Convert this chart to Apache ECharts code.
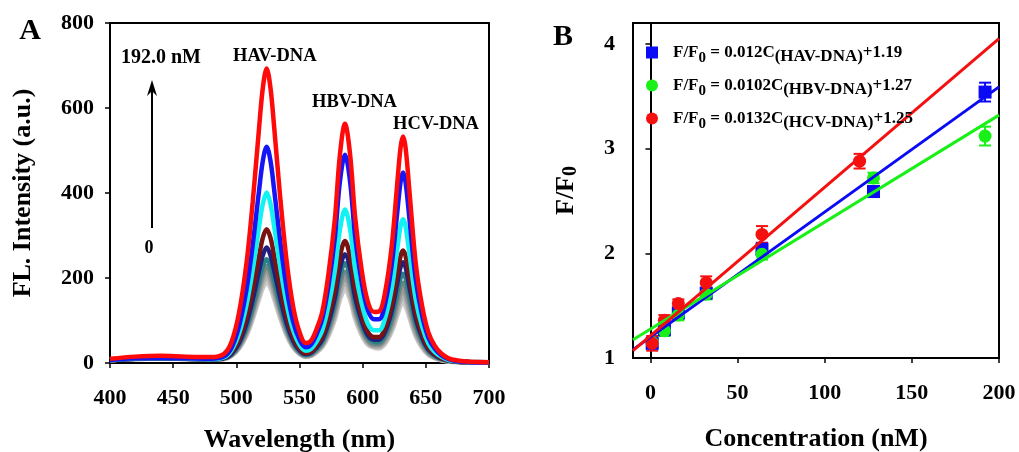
<!DOCTYPE html>
<html>
<head>
<meta charset="utf-8">
<script src="https://cdn.jsdelivr.net/npm/echarts@6/dist/echarts.min.js"></script>
<style>
  html, body { margin: 0; padding: 0; background: #fff; }
  #chart { width: 1019px; height: 452px; }
</style>
</head>
<body>
<div id="chart"></div>
<script>
// panel A: emission spectra (nm -> a.u.)
var wavelength = [400,420,440,460,480,490,496,502,508,513,518,521,524,527,530,535,540,545,550,555,559,563,568,573,578,582,586,590,594,599,604,609,613,618,623,627,630,632,634,637,642,647,652,657,662,668,675,685,700];
var specRed    = [10,15,17,15,14,21,48,116,234,380,553,648,693,648,553,381,235,132,73,47,52,76,120,211,339,490,563,492,344,223,145,120,121,170,275,409,507,533,506,405,235,135,72,41,23,11,6,3,2];
var specBlue   = [7,11,12,11,10,15,35,85,172,279,406,476,509,476,406,280,172,97,55,37,43,64,104,183,295,427,490,428,299,193,125,103,103,143,231,343,426,448,425,340,197,113,60,34,19,9,4,2,1];
var specCyan   = [7,11,12,11,9,13,29,68,136,220,320,375,401,375,320,221,136,77,43,29,33,48,77,135,218,314,361,316,221,143,93,77,77,108,175,260,322,338,321,257,149,86,46,26,15,7,4,2,1];
var specMaroon = [7,11,12,11,9,12,24,54,107,173,251,295,315,295,251,174,107,61,34,23,26,39,62,108,173,250,287,251,175,114,74,61,61,85,137,203,252,265,251,201,117,68,36,21,12,6,3,2,1];
var specNavy   = [7,10,11,10,9,11,21,47,93,150,217,254,272,254,217,150,93,53,30,21,24,35,55,96,154,223,256,224,156,102,66,55,55,76,123,182,226,237,225,180,105,61,32,19,11,6,3,2,1];
var specTeal   = [7,10,11,10,9,11,20,43,83,134,195,228,244,228,195,135,83,48,27,19,22,32,51,88,142,204,235,205,144,93,60,50,49,68,109,161,200,210,199,160,93,54,29,17,10,5,3,2,1];
var specGray1  = [7,10,11,10,9,11,19,40,78,126,182,213,228,213,182,126,78,44,26,18,20,29,46,81,130,187,215,188,131,85,55,45,45,62,98,145,180,189,179,144,84,49,26,15,9,5,3,2,1];
var specGray2  = [7,10,11,10,9,10,18,38,74,120,173,203,217,203,173,120,74,42,24,17,19,28,44,76,122,176,203,177,124,80,52,42,42,57,90,133,165,173,164,131,77,45,24,14,9,5,3,2,1];
var specGray3  = [7,10,11,10,8,10,17,36,70,112,162,190,203,190,162,112,70,40,23,16,18,26,41,71,113,163,188,164,115,74,48,39,38,52,82,121,150,158,150,120,70,41,22,13,8,4,3,2,1];
var specGray4  = [7,10,11,10,8,10,17,34,65,105,152,178,190,178,152,105,65,37,22,15,17,24,38,65,104,150,172,151,106,68,44,36,35,47,75,110,136,143,135,109,64,37,20,12,7,4,3,2,1];

var xTicksA = [400, 450, 500, 550, 600, 650, 700];
var yTicksA = [0, 200, 400, 600, 800];

// panel B: F/F0 vs concentration (nM)
var concHAV = [1, 8, 16, 32, 64, 128, 192];
var ratioHAV = [1.14, 1.27, 1.43, 1.62, 2.04, 2.59, 3.54];
var errHAV = [0.04, 0.04, 0.05, 0.05, 0.06, 0.05, 0.09];
var concHBV = [1, 8, 16, 32, 64, 128, 192];
var ratioHBV = [1.15, 1.26, 1.41, 1.61, 1.99, 2.72, 3.12];
var errHBV = [0.04, 0.05, 0.05, 0.05, 0.05, 0.05, 0.09];
var concHCV = [1, 8, 16, 32, 64, 120];
var ratioHCV = [1.14, 1.36, 1.52, 1.72, 2.18, 2.88];
var errHCV = [0.07, 0.05, 0.04, 0.06, 0.08, 0.07];
var fitHAV = [[-10, 1.08], [200, 3.59]];
var fitHBV = [[-10, 1.175], [200, 3.32]];
var fitHCV = [[-10, 1.07], [200, 4.05]];
var xTicksB = [0, 50, 100, 150, 200];
var yTicksB = [1, 2, 3, 4];

var FONT = "'Liberation Serif', 'DejaVu Serif', serif";

(function() {
	'use strict';
	var chart = echarts.init(document.getElementById('chart'));

	function pairs(xs, ys) {
		return xs.map(function(x, i) { return [x, ys[i]]; });
	}
	function triples(xs, ys, es) {
		return xs.map(function(x, i) { return [x, ys[i], es[i]]; });
	}

	// spectra, drawn from lowest to highest so red sits on top
	var spectra = [
		{data: specGray4, color: '#cacaca', width: 5},
		{data: specGray3, color: '#b2b2b2', width: 5},
		{data: specGray2, color: '#999999', width: 5},
		{data: specGray1, color: '#6f8585', width: 4.5},
		{data: specTeal, color: '#2b8282', width: 4.5},
		{data: specNavy, color: '#1f1f80', width: 4.5},
		{data: specMaroon, color: '#7a1212', width: 4.5},
		{data: specCyan, color: '#12f2f2', width: 4.5},
		{data: specBlue, color: '#1515f5', width: 4.5},
		{data: specRed, color: '#ff0a0a', width: 4.5}
	];

	var axisLine = {show: true, lineStyle: {color: '#000', width: 2}};
	var axisTick = {show: true, inside: false, length: 5, lineStyle: {color: '#000', width: 1.5}};
	var tickLabel = {color: '#000', fontFamily: FONT, fontWeight: 'bold', fontSize: 22};
	var nameStyle = {color: '#000', fontFamily: FONT, fontWeight: 'bold', fontSize: 26};

	function errorBar(color) {
		return function(params, api) {
			var x = api.value(0), y = api.value(1), e = api.value(2);
			var top = api.coord([x, y + e]);
			var bot = api.coord([x, y - e]);
			var w = 6;
			var st = {stroke: color, lineWidth: 2};
			return {
				type: 'group',
				children: [
					{type: 'line', shape: {x1: top[0], y1: top[1], x2: bot[0], y2: bot[1]}, style: st},
					{type: 'line', shape: {x1: top[0] - w, y1: top[1], x2: top[0] + w, y2: top[1]}, style: st},
					{type: 'line', shape: {x1: bot[0] - w, y1: bot[1], x2: bot[0] + w, y2: bot[1]}, style: st}
				]
			};
		};
	}

	var series = spectra.map(function(s) {
		return {
			type: 'line', xAxisIndex: 0, yAxisIndex: 0,
			data: pairs(wavelength, s.data),
			showSymbol: false, smooth: 0.35,
			lineStyle: {color: s.color, width: s.width},
			itemStyle: {color: s.color},
			silent: true
		};
	});

	var groups = [
		{name: 'HAV', conc: concHAV, ratio: ratioHAV, err: errHAV, fit: fitHAV, color: '#0a0af5', symbol: 'rect'},
		{name: 'HBV', conc: concHBV, ratio: ratioHBV, err: errHBV, fit: fitHBV, color: '#18f018', symbol: 'circle'},
		{name: 'HCV', conc: concHCV, ratio: ratioHCV, err: errHCV, fit: fitHCV, color: '#f51010', symbol: 'circle'}
	];
	groups.forEach(function(g) {
		series.push({
			type: 'line', name: g.name + ' fit', xAxisIndex: 1, yAxisIndex: 1,
			data: g.fit, showSymbol: false,
			lineStyle: {color: g.color, width: 3}, silent: true
		});
	});
	groups.forEach(function(g) {
		series.push({
			type: 'custom', name: g.name + ' err', xAxisIndex: 1, yAxisIndex: 1,
			data: triples(g.conc, g.ratio, g.err),
			renderItem: errorBar(g.color), silent: true
		});
		series.push({
			type: 'scatter', name: g.name, xAxisIndex: 1, yAxisIndex: 1,
			data: pairs(g.conc, g.ratio),
			symbol: g.symbol, symbolSize: 13,
			itemStyle: {color: g.color, opacity: 1}
		});
	});

	var legendText = {
		HAV: '{m|F/F}{z|0}{m| = 0.012C}{s|(HAV-DNA)}{m|+1.19}',
		HBV: '{m|F/F}{z|0}{m| = 0.0102C}{s|(HBV-DNA)}{m|+1.27}',
		HCV: '{m|F/F}{z|0}{m| = 0.0132C}{s|(HCV-DNA)}{m|+1.25}'
	};
	var legendRich = {
		m: {fontFamily: FONT, fontWeight: 'bold', fontSize: 17, color: '#000', lineHeight: 26, verticalAlign: 'middle'},
		s: {fontFamily: FONT, fontWeight: 'bold', fontSize: 17, color: '#000', lineHeight: 16, verticalAlign: 'bottom'},
		z: {fontFamily: FONT, fontWeight: 'bold', fontSize: 15, color: '#000', lineHeight: 15, verticalAlign: 'bottom'}
	};

	var labelStyle = {fill: '#000', fontFamily: FONT, fontWeight: 'bold'};
	function txt(str, x, y, size, align) {
		return {
			type: 'text', x: x, y: y, silent: true,
			style: Object.assign({text: str, fontSize: size, align: align || 'left', verticalAlign: 'middle'}, labelStyle)
		};
	}

	var option = {
		animation: false,
		backgroundColor: '#fff',
		grid: [
			{left: 110, top: 23, width: 379, height: 340, show: true, borderColor: '#000', borderWidth: 2,
				containLabel: false, outerBoundsMode: 'none'},
			{left: 633, top: 23, width: 366, height: 335, show: true, borderColor: '#000', borderWidth: 2,
				containLabel: false, outerBoundsMode: 'none'}
		],
		xAxis: [{
			gridIndex: 0, type: 'value', min: 400, max: 700, interval: 50,
			axisLine: axisLine, axisTick: axisTick,
			axisLabel: Object.assign({margin: 24, customValues: xTicksA}, tickLabel),
			splitLine: {show: false},
			name: 'Wavelength (nm)', nameLocation: 'middle', nameGap: 64, nameTextStyle: nameStyle
		}, {
			gridIndex: 1, type: 'value', min: -10, max: 200,
			axisLine: axisLine,
			axisTick: Object.assign({customValues: xTicksB}, axisTick),
			axisLabel: Object.assign({margin: 24, customValues: xTicksB}, tickLabel),
			splitLine: {show: false},
			name: 'Concentration (nM)', nameLocation: 'middle', nameGap: 68, nameTextStyle: nameStyle
		}],
		yAxis: [{
			gridIndex: 0, type: 'value', min: 0, max: 800, interval: 200,
			axisLine: axisLine, axisTick: axisTick,
			axisLabel: Object.assign({margin: 16, customValues: yTicksA}, tickLabel),
			splitLine: {show: false},
			name: 'FL. Intensity (a.u.)', nameLocation: 'middle', nameGap: 74, nameTextStyle: nameStyle
		}, {
			gridIndex: 1, type: 'value', min: 1, max: 4.2,
			axisLine: axisLine,
			axisTick: Object.assign({customValues: yTicksB}, axisTick),
			axisLabel: Object.assign({margin: 18, customValues: yTicksB}, tickLabel),
			splitLine: {show: false},
			name: '{m|F/F}{s|0}', nameLocation: 'middle', nameGap: 52,
			nameTextStyle: {
				rich: {
					m: {fontFamily: FONT, fontWeight: 'bold', fontSize: 26, color: '#000', lineHeight: 30, verticalAlign: 'middle'},
					s: {fontFamily: FONT, fontWeight: 'bold', fontSize: 20, color: '#000', lineHeight: 18, verticalAlign: 'bottom'}
				}
			}
		}],
		legend: {
			data: ['HAV', 'HBV', 'HCV'],
			orient: 'vertical', left: 641, top: 39,
			itemWidth: 12, itemHeight: 12, itemGap: 11.5,
			selectedMode: false,
			formatter: function(name) { return legendText[name]; },
			textStyle: {padding: [0, 0, 0, 10], rich: legendRich}
		},
		graphic: [
			txt('A', 30, 31, 30, 'center'),
			txt('B', 563, 37, 30, 'center'),
			txt('192.0 nM', 121, 58, 20),
			txt('HAV-DNA', 233, 56, 18.5),
			txt('HBV-DNA', 312, 102, 18.5),
			txt('HCV-DNA', 393, 124, 18.5),
			txt('0', 149, 248, 18, 'center'),
			{type: 'line', silent: true, shape: {x1: 152, y1: 228, x2: 152, y2: 88}, style: {stroke: '#000', lineWidth: 2}},
			{type: 'polygon', silent: true, shape: {points: [[152, 80], [147, 96], [152, 91], [157, 96]]}, style: {fill: '#000'}}
		],
		series: series
	};
	chart.setOption(option);
})();
</script>
</body>
</html>
